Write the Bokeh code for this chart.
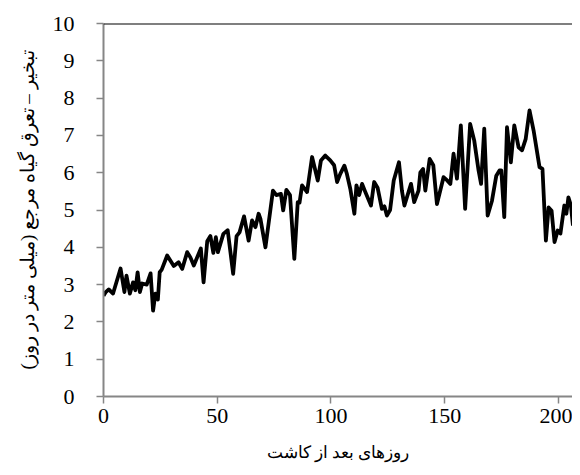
from bokeh.plotting import figure
from bokeh.models import Range1d, Span, FixedTicker
from bokeh.embed import file_html
from bokeh.resources import INLINE

days = [0, 1, 2.3, 4.2, 7.5, 9.2, 10.1, 11.6, 13, 14, 15, 16, 17, 19, 20.7, 21.8, 22.8, 23.9,
        24.7, 25.6, 28, 30.9, 33, 34.6, 36.8, 38.2, 39.7, 42.8, 44, 45.6, 47, 48.3, 49.4,
        50.3, 52.7, 54.6, 57, 58.5, 59.8, 61.8, 63.8, 65.3, 66.8, 68.2, 69, 71.2, 74.5, 76,
        78, 79, 80.4, 82, 83.9, 85.4, 86.2, 87.3, 89.5, 91.7, 94.2, 95.6, 97.5, 99.7, 101.4,
        102.7, 104.1, 105.9, 107, 108.5, 110.3, 111.2, 112.4, 113.7, 115, 117.6, 119, 120.5,
        122.4, 123.5, 124.6, 126, 127.6, 129.9, 131.2, 132.3, 135.2, 136.6, 138.5, 139.3,
        140.5, 141.5, 143.4, 145, 146.6, 149.5, 151, 152.5, 153.9, 155.4, 157.1, 159, 161.2,
        163, 164.9, 166, 167.4, 168.9, 170.8, 172.7, 174.1, 174.9, 176.2, 177.4, 179.1,
        180.6, 182.5, 184, 185.6, 187.3, 189.1, 191.7, 193, 194.5, 195.7, 197, 198.3, 199.7,
        200.9, 202.6, 203.5, 204.4, 205.5, 206.4]
et0 = [2.7, 2.8, 2.87, 2.76, 3.43, 2.8, 3.24, 2.76, 3.06, 2.85, 3.33, 2.8, 3.03, 3.0, 3.3,
       2.3, 2.76, 2.6, 3.33, 3.4, 3.78, 3.5, 3.6, 3.42, 3.87, 3.73, 3.51, 3.97, 3.06, 4.16,
       4.3, 3.85, 4.27, 3.87, 4.36, 4.46, 3.29, 4.3, 4.4, 4.83, 4.18, 4.72, 4.54, 4.9, 4.76,
       4.0, 5.52, 5.4, 5.43, 4.99, 5.54, 5.4, 3.69, 5.21, 5.2, 5.66, 5.48, 6.42, 5.79, 6.33,
       6.46, 6.33, 6.2, 5.75, 5.97, 6.19, 5.97, 5.57, 4.9, 5.66, 5.4, 5.7, 5.5, 5.12, 5.75,
       5.6, 5.03, 5.1, 4.85, 5.0, 5.79, 6.28, 5.52, 5.12, 5.7, 5.21, 5.52, 6.01, 6.1, 5.52,
       6.37, 6.2, 5.16, 5.88, 5.8, 5.7, 6.51, 5.84, 7.27, 5.03, 7.31, 6.86, 6.06, 5.7, 7.18,
       4.85, 5.25, 5.92, 6.06, 6.06, 4.81, 7.22, 6.28, 7.27, 6.68, 6.6, 6.9, 7.67, 7.13,
       6.15, 6.1, 4.18, 5.07, 4.98, 4.14, 4.45, 4.37, 5.12, 4.9, 5.34, 5.12, 4.58]

x_ticks = [0, 50, 100, 150, 200]
y_ticks = [0, 1, 2, 3, 4, 5, 6, 7, 8, 9, 10]
x_title = "روزهای بعد از کاشت"
y_title = "تبخیر – تعرق گیاه مرجع (میلی متر در روز)"

SERIF = "Liberation Serif"

p = figure(width=572, height=467, output_backend="svg", toolbar_location=None,
           x_range=Range1d(0, 206.2), y_range=Range1d(0, 10),
           min_border_left=103, min_border_right=0, min_border_top=23, min_border_bottom=71)
p.outline_line_color = None
p.grid.visible = False
p.background_fill_color = "white"
p.border_fill_color = "white"

p.line(days, et0, line_color="black", line_width=3.8, line_join="round")

p.add_layout(Span(location=10, dimension="width", line_color="black", line_width=2))

for ax in (p.xaxis[0], p.yaxis[0]):
    ax.axis_line_color = "#868686"
    ax.axis_line_width = 2
    ax.major_tick_line_color = "#868686"
    ax.major_tick_line_width = 1.5
    ax.major_tick_out = 7
    ax.major_tick_in = 0
    ax.minor_tick_line_color = None
    ax.major_label_text_font = SERIF
    ax.major_label_text_font_size = "22px"
    ax.major_label_text_color = "black"
    ax.axis_label_text_font = SERIF
    ax.axis_label_text_font_style = "normal"
    ax.axis_label_text_color = "black"

p.xaxis[0].axis_label_text_font_size = "17px"
p.yaxis[0].axis_label_text_font_size = "19px"
p.xaxis[0].ticker = FixedTicker(ticks=x_ticks)
p.yaxis[0].ticker = FixedTicker(ticks=y_ticks)
p.xaxis[0].axis_label = x_title
p.yaxis[0].axis_label = y_title
p.xaxis[0].major_label_standoff = 5
p.yaxis[0].major_label_standoff = 22
p.xaxis[0].axis_label_standoff = 17
p.yaxis[0].axis_label_standoff = 12

open("out.html", "w").write(file_html(p, INLINE))
